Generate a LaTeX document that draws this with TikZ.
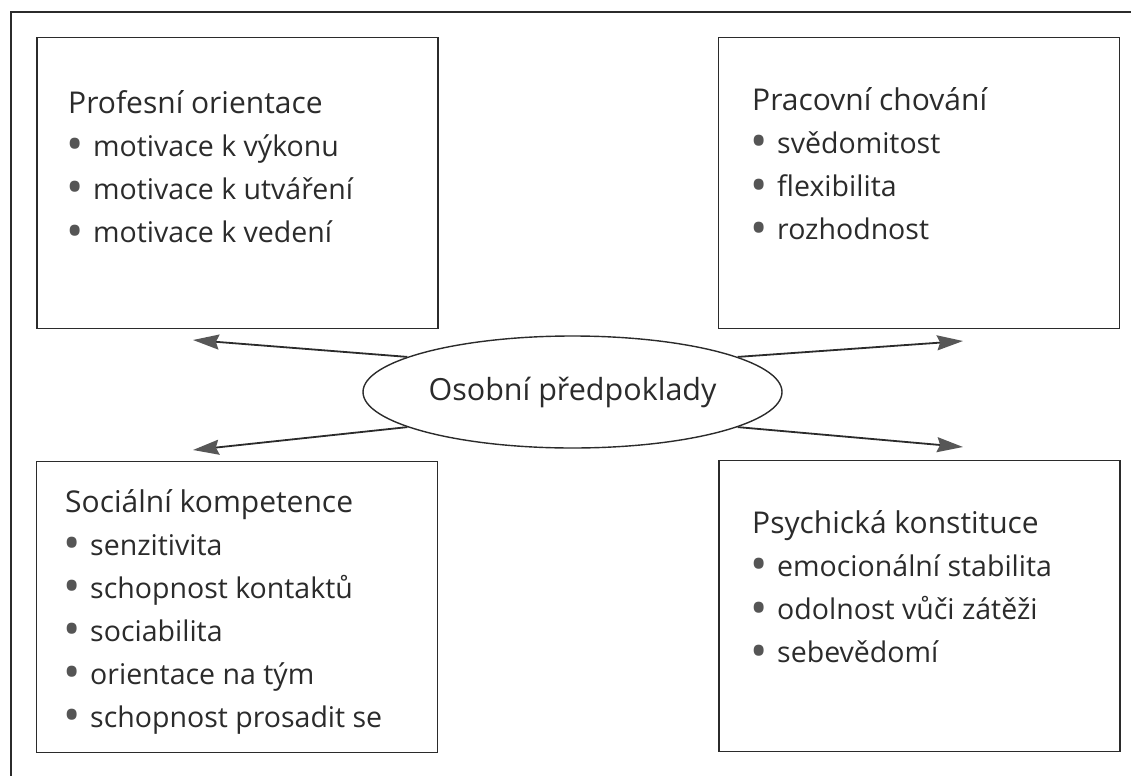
\documentclass[tikz,border=0pt]{standalone}
\usepackage{fontspec}
\setmainfont{Open Sans}
\usetikzlibrary{arrows.meta,positioning,shapes.geometric}
\definecolor{inkgray}{HTML}{2B2B2B}
\definecolor{dotgray}{HTML}{555555}
\definecolor{headgray}{HTML}{575757}
\newcommand{\bul}{\makebox[25pt][l]{\hspace*{-2pt}\raisebox{-4.5pt}{\textcolor{dotgray}{\fontsize{46}{46}\selectfont\textbullet}}}}
\tikzset{
  fbox/.style={rectangle,draw=inkgray,line width=1.6pt,minimum width=401pt,minimum height=291pt,inner sep=0pt},
  ttl/.style={anchor=base west,inner sep=0pt,text=inkgray,font=\fontsize{30}{36}\selectfont},
  itm/.style={anchor=base west,inner sep=0pt,text=inkgray,font=\fontsize{28.5}{34}\selectfont},
  hub/.style={ellipse,draw=inkgray,line width=1.4pt,minimum width=419pt,minimum height=112pt,inner sep=0pt,text=inkgray,font=\fontsize{30.5}{36}\selectfont},
  ar/.style={-{Stealth[length=26pt,width=15pt,inset=3pt,color=headgray]},line width=1.8pt,draw=inkgray}
}

\begin{document}
\begin{tikzpicture}[x=1pt,y=-1pt]
\useasboundingbox (0,0) rectangle (1131,776);
\draw[inkgray,line width=1.4pt] (1131,12) -- (11,12) -- (11,776);

% the four boxes
\node[fbox] (PO) at (237.5,183) {};
\node[fbox] (PC) at (919,183) {};
\node[fbox] (SK) at (237,607) {};
\node[fbox] (PK) at (919.5,606) {};

% centre
\node[hub] (OP) at (572.5,392) {Osobní předpoklady};

% texts
\node[ttl] (POt) at (68,113) {Profesní orientace};
\foreach \t [count=\i] in {motivace k výkonu,motivace k utváření,motivace k vedení}
  \node[itm] (PO\i) at (68,113+43.2*\i) {\bul\t};

\node[ttl] (PCt) at (752,110) {Pracovní chování};
\foreach \t [count=\i] in {svědomitost,flexibilita,rozhodnost}
  \node[itm] (PC\i) at (752,110+43.3*\i) {\bul\t};

\node[ttl] (SKt) at (65,512) {Sociální kompetence};
\foreach \t [count=\i] in {senzitivita,schopnost kontaktů,sociabilita,orientace na tým,schopnost prosadit se}
  \node[itm] (SK\i) at (65,512+43*\i) {\bul\t};

\node[ttl] (PKt) at (752,533) {Psychická konstituce};
\foreach \t [count=\i] in {emocionální stabilita,odolnost vůči zátěži,sebevědomí}
  \node[itm] (PK\i) at (752,533+43.3*\i) {\bul\t};

% arrows
\coordinate (aPO) at (193,340);
\coordinate (aSK) at (193,450);
\coordinate (aPC) at (963,341);
\coordinate (aPK) at (963,447);
\draw[ar] (OP.168) -- (aPO);
\draw[ar] (OP.192) -- (aSK);
\draw[ar] (OP.12) -- (aPC);
\draw[ar] (OP.348) -- (aPK);
\end{tikzpicture}
\end{document}
